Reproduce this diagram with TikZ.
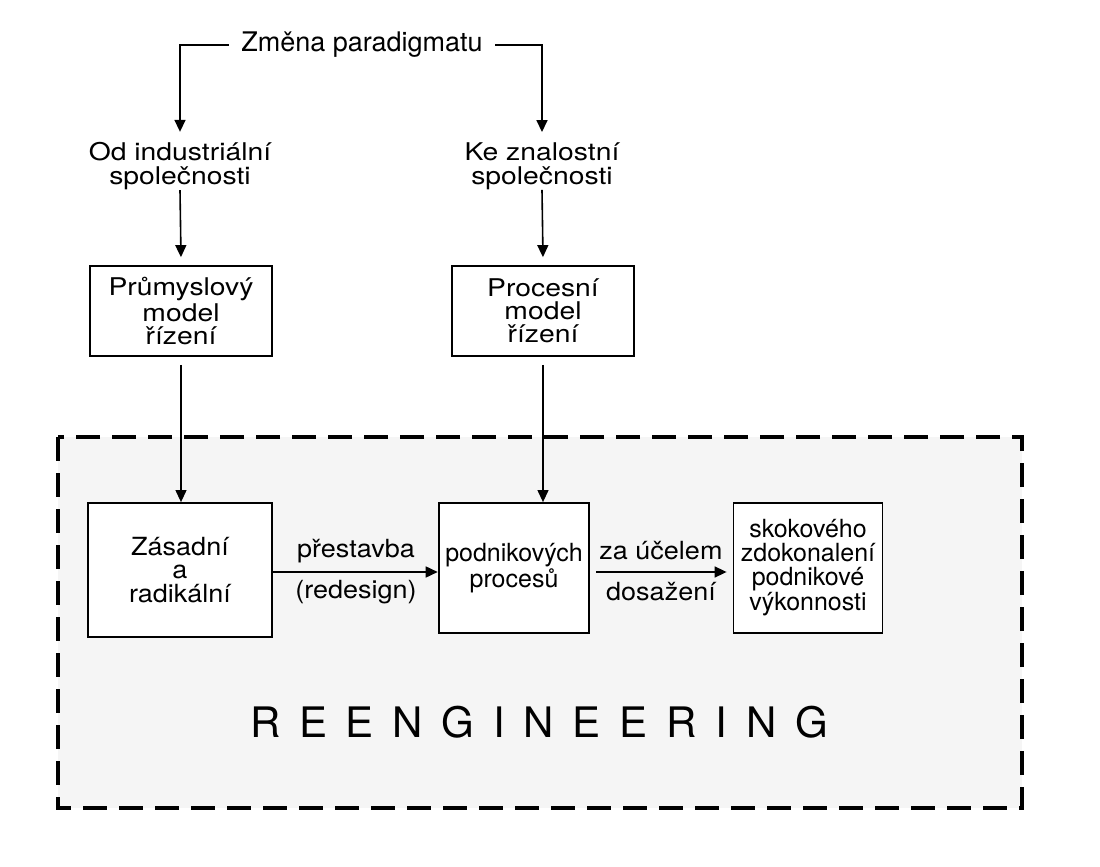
\documentclass[tikz,border=0pt]{standalone}
\usepackage{fontspec}
\setmainfont{TeX Gyre Heros}
\newfontfamily\widefont{TeX Gyre Heros}[FakeStretch=1.16]
\newfontfamily\semiwide{TeX Gyre Heros}[FakeStretch=1.08]
\usetikzlibrary{arrows.meta}
\begin{document}
\begin{tikzpicture}[x=0.5pt,y=-0.5pt,
  txt/.style={font=\widefont\fontsize{12.2pt}{12pt}\selectfont, align=center, inner sep=2pt},
  topbox/.style={draw, line width=0.9pt, fill=white, align=center,
    font=\widefont\fontsize{12.2pt}{11.5pt}\selectfont, minimum width=91pt, minimum height=45pt},
  midbox/.style={draw, line width=0.9pt, fill=white, align=center,
    font=\fontsize{12.5pt}{11.8pt}\selectfont, minimum height=65pt},
  arr/.style={line width=0.8pt, -{Triangle[length=6pt,width=5.5pt]}},
  thinarr/.style={line width=0.6pt, -{Triangle[length=6pt,width=5.5pt]}},
  lbl/.style={font=\semiwide\fontsize{12.5pt}{14pt}\selectfont, inner sep=1pt}
]
\useasboundingbox (0,0) rectangle (1100,867);

% reengineering area
\draw[line width=2pt, dash pattern=on 12pt off 6pt, fill=gray!8]
  (58,437) rectangle (1022,808);

% upper part
\node[font=\fontsize{13.5pt}{15pt}\selectfont, inner sep=2pt] (zm) at (362,45) {Změna paradigmatu};
\node[txt] (od) at (180,166) {Od industriální\\společnosti};
\node[txt] (ke) at (542,166) {Ke znalostní\\společnosti};
\node[topbox] (pm) at (181,311) {Průmyslový\\model\\řízení};
\node[topbox] (pr) at (543,311) {Procesní\\model\\řízení};

\draw[arr] ([xshift=-4pt]zm.west) -| ([yshift=3pt]od.north);
\draw[arr] ([xshift=4pt]zm.east) -| ([yshift=3pt]ke.north);
\draw[arr] ([yshift=2pt]od.south) -- ([yshift=4pt]pm.north);
\draw[arr] ([yshift=2pt]ke.south) -- ([yshift=4pt]pr.north);

% process chain
\node[midbox, font=\semiwide\fontsize{12.5pt}{11.8pt}\selectfont,
  minimum width=92pt, minimum height=67pt] (za) at (180,570) {Zásadní\\a\\radikální};
\node[midbox, minimum width=74pt] (pp) at (514,568) {podnikových\\procesů};
\node[midbox, minimum width=74.5pt] (sk) at (808,568) {skokového\\zdokonalení\\podnikové\\výkonnosti};

\draw[thinarr, shorten <=4pt] (pm.south) -- (pm.south |- za.north);
\draw[thinarr, shorten <=4pt] (pr.south) -- (pr.south |- pp.north);

\draw[arr] (za.east |- 0,572) coordinate (a1) -- (pp.west |- 0,572) coordinate (a2);
\draw[arr] ([xshift=3pt]pp.east |- 0,572) coordinate (b1) -- ([xshift=-3pt]sk.west |- 0,572) coordinate (b2);

\node[lbl] (l1) at (356,551) {přestavba};
\node[lbl] (l2) at (356,592) {(redesign)};
\node[lbl] (l3) at (661,551) {za účelem};
\node[lbl] (l4) at (661,592) {dosažení};

\node[font=\fontsize{21pt}{24pt}\selectfont, inner sep=0pt] (re) at (539,722)
  {\makebox[289pt][s]{R\hfill E\hfill E\hfill N\hfill G\hfill I\hfill N\hfill E\hfill E\hfill R\hfill I\hfill N\hfill G}};
\end{tikzpicture}
\end{document}
